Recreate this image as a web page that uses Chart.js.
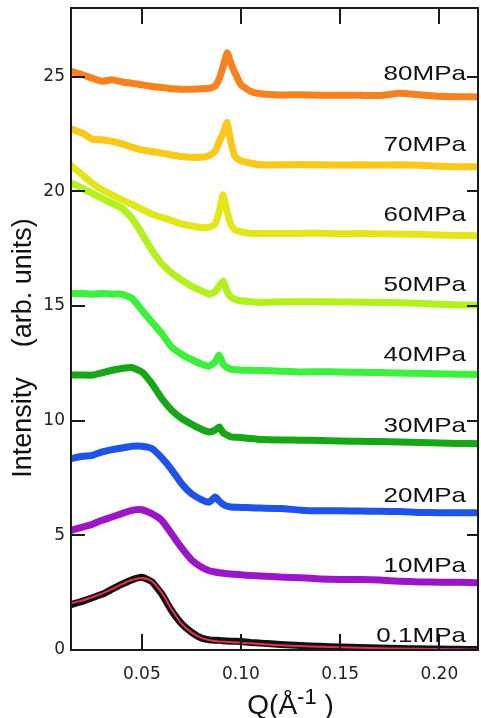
<!DOCTYPE html>
<html><head><meta charset="utf-8">
<script src="https://cdn.jsdelivr.net/npm/chart.js@4.4.1/dist/chart.umd.min.js"></script>
<style>html,body{margin:0;padding:0;background:#fff;}canvas{display:block;}</style>
</head><body>
<canvas id="c" width="481" height="718"></canvas>
<script>
// Q values (Å^-1)
const Q = [0.0145, 0.02, 0.025, 0.03, 0.035, 0.04, 0.045, 0.05, 0.055, 0.06, 0.065, 0.07, 0.075, 0.08, 0.084, 0.087, 0.089, 0.091, 0.093, 0.095, 0.097, 0.10, 0.105, 0.11, 0.12, 0.13, 0.14, 0.15, 0.16, 0.17, 0.18, 0.19, 0.20, 0.21, 0.2195];

const p01    = [1.98, 2.12, 2.28, 2.43, 2.65, 2.87, 3.06, 3.17, 2.98, 2.45, 1.72, 1.15, 0.78, 0.52, 0.44, 0.42, 0.42, 0.40, 0.39, 0.38, 0.38, 0.37, 0.33, 0.30, 0.24, 0.20, 0.16, 0.13, 0.11, 0.09, 0.07, 0.05, 0.04, 0.03, 0.02];
const p01fit = [2.04, 2.16, 2.30, 2.46, 2.66, 2.87, 3.05, 3.14, 3.00, 2.50, 1.77, 1.15, 0.77, 0.53, 0.43, 0.39, 0.37, 0.36, 0.35, 0.34, 0.33, 0.32, 0.29, 0.26, 0.21, 0.17, 0.14, 0.12, 0.10, 0.08, 0.06, 0.05, 0.04, 0.03, 0.02];
const p10    = [5.22, 5.36, 5.48, 5.66, 5.80, 5.95, 6.09, 6.12, 5.95, 5.66, 5.07, 4.46, 3.94, 3.62, 3.46, 3.40, 3.37, 3.35, 3.33, 3.31, 3.30, 3.28, 3.25, 3.23, 3.18, 3.15, 3.10, 3.07, 3.07, 3.05, 3.00, 2.97, 2.96, 2.95, 2.93];
const p20    = [8.35, 8.45, 8.49, 8.64, 8.74, 8.81, 8.89, 8.89, 8.79, 8.39, 7.87, 7.26, 6.82, 6.56, 6.45, 6.67, 6.50, 6.35, 6.27, 6.24, 6.23, 6.22, 6.20, 6.19, 6.17, 6.10, 6.07, 6.07, 6.06, 6.05, 6.04, 6.00, 5.99, 5.99, 5.99];
const p30    = [11.99, 11.99, 11.99, 12.09, 12.20, 12.28, 12.32, 12.13, 11.63, 10.98, 10.46, 10.10, 9.85, 9.63, 9.51, 9.59, 9.73, 9.47, 9.37, 9.30, 9.28, 9.27, 9.22, 9.18, 9.16, 9.15, 9.14, 9.12, 9.10, 9.09, 9.07, 9.05, 9.03, 9.01, 9.00];
const p40    = [15.55, 15.55, 15.52, 15.55, 15.52, 15.52, 15.34, 14.83, 14.31, 13.81, 13.22, 12.90, 12.67, 12.47, 12.38, 12.57, 12.86, 12.47, 12.32, 12.24, 12.22, 12.20, 12.20, 12.19, 12.16, 12.13, 12.14, 12.12, 12.11, 12.10, 12.08, 12.07, 12.05, 12.03, 12.02];
const p50    = [20.36, 20.14, 19.92, 19.70, 19.48, 19.27, 18.83, 18.17, 17.45, 16.86, 16.45, 16.14, 15.87, 15.67, 15.52, 15.63, 15.87, 16.09, 15.63, 15.38, 15.29, 15.23, 15.19, 15.16, 15.19, 15.19, 15.19, 15.18, 15.17, 15.16, 15.15, 15.12, 15.08, 15.05, 15.04];
const p60    = [21.12, 20.72, 20.36, 20.07, 19.85, 19.63, 19.44, 19.22, 19.02, 18.87, 18.73, 18.58, 18.49, 18.42, 18.44, 18.58, 19.12, 19.85, 19.12, 18.54, 18.32, 18.24, 18.17, 18.17, 18.16, 18.17, 18.18, 18.15, 18.16, 18.15, 18.14, 18.13, 18.10, 18.08, 18.07];
const p70    = [22.72, 22.54, 22.28, 22.25, 22.18, 22.07, 21.93, 21.81, 21.74, 21.67, 21.59, 21.52, 21.49, 21.49, 21.57, 21.75, 22.16, 22.53, 23.00, 22.12, 21.52, 21.34, 21.23, 21.16, 21.16, 21.17, 21.16, 21.15, 21.16, 21.15, 21.16, 21.14, 21.10, 21.08, 21.08];
const p80    = [25.23, 25.09, 24.94, 24.80, 24.87, 24.77, 24.72, 24.65, 24.58, 24.53, 24.48, 24.46, 24.46, 24.48, 24.50, 24.60, 24.91, 25.44, 26.05, 25.57, 25.17, 24.65, 24.36, 24.26, 24.21, 24.22, 24.20, 24.20, 24.19, 24.18, 24.28, 24.22, 24.15, 24.13, 24.12];

const seriesNames = ['0.1MPa', '10MPa', '20MPa', '30MPa', '40MPa', '50MPa', '60MPa', '70MPa', '80MPa'];
const seriesValues = [p01, p10, p20, p30, p40, p50, p60, p70, p80];
const seriesColors = ['#111111', '#9b16c6', '#1f52e8', '#16a616', '#3cf03c', '#b2f01e', '#e4e61c', '#f8c81a', '#f5821f'];
const fitColor = '#e8304c';

const xTicks = [0.05, 0.10, 0.15, 0.20];
const yTicks = [0, 5, 10, 15, 20, 25];
const xTitleParts = ['Q(Å', '-1', ' )'];
const yTitle = 'Intensity    (arb. units)';

const toPts = vals => Q.map((q, i) => ({x: q, y: vals[i]}));

const datasets = [{
  label: '0.1MPa fit', data: toPts(p01fit), borderColor: fitColor, borderWidth: 2,
  pointRadius: 0, tension: 0.3, fill: false
}];
seriesValues.forEach((vals, i) => {
  datasets.push({
    label: seriesNames[i], data: toPts(vals), borderColor: seriesColors[i],
    borderWidth: 7, pointRadius: 0, tension: 0.15, fill: false,
    borderJoinStyle: 'round', borderCapStyle: 'round'
  });
});

const deco = {
  id: 'deco',
  afterDraw(chart) {
    const ctx = chart.ctx;
    const a = chart.chartArea;
    const xs = chart.scales.x, ys = chart.scales.y;
    ctx.save();
    ctx.setLineDash([]);
    ctx.fillStyle = '#1a1a1a';
    // frame
    ctx.fillRect(a.left - 1, a.top - 1, 2, a.bottom - a.top + 2);
    ctx.fillRect(a.right - 1, a.top - 1, 2, a.bottom - a.top + 2);
    ctx.fillRect(a.left - 1, a.top - 1, a.right - a.left + 2, 2);
    ctx.fillRect(a.left - 1, a.bottom - 1, a.right - a.left + 2, 2);
    // inward ticks
    xTicks.forEach(v => {
      const px = Math.round(xs.getPixelForValue(v));
      ctx.fillRect(px - 1, a.bottom - 16, 2, 16);
      ctx.fillRect(px - 1, a.top, 2, 16);
    });
    yTicks.forEach(v => {
      const py = Math.round(ys.getPixelForValue(v));
      ctx.fillRect(a.left, py - 1, 14, 2);
      if (v > 0) ctx.fillRect(a.right - 11, py - 1, 11, 2);
    });

    // series labels
    ctx.fillStyle = '#111';
    ctx.font = '21px "Liberation Sans", Arial, sans-serif';
    ctx.textAlign = 'right';
    ctx.textBaseline = 'alphabetic';
    seriesNames.forEach((name, i) => {
      const py = ys.getPixelForValue(3 * i + 0.33 + 0.065 * i);
      ctx.save();
      ctx.translate(a.right - 12, py);
      ctx.scale(1.24, 1);
      ctx.fillText(name, 0, 0);
      ctx.restore();
    });

    // y title
    ctx.save();
    ctx.font = '27px "Liberation Sans", Arial, sans-serif';
    ctx.textAlign = 'center';
    ctx.translate(31, (a.top + a.bottom) / 2 + 19);
    ctx.rotate(-Math.PI / 2);
    ctx.fillText(yTitle, 0, 0);
    ctx.restore();

    // x title
    ctx.textAlign = 'left';
    const fMain = '28px "Liberation Sans", Arial, sans-serif';
    const fSup = '22px "Liberation Sans", Arial, sans-serif';
    ctx.font = fMain; const w0 = ctx.measureText(xTitleParts[0]).width;
    ctx.font = fSup; const w1 = ctx.measureText(xTitleParts[1]).width;
    ctx.font = fMain; const w2 = ctx.measureText(xTitleParts[2]).width;
    const cx = (a.left + a.right) / 2 + 16;
    let sx = cx - (w0 + w1 + w2) / 2;
    const base = 714;
    ctx.font = fMain; ctx.fillText(xTitleParts[0], sx, base); sx += w0;
    ctx.font = fSup; ctx.fillText(xTitleParts[1], sx, base - 10); sx += w1;
    ctx.font = fMain; ctx.fillText(xTitleParts[2], sx, base);
    ctx.restore();
  }
};

Chart.defaults.font.family = '"DejaVu Sans", sans-serif';
new Chart(document.getElementById('c'), {
  type: 'line',
  data: {datasets},
  options: {
    responsive: false, animation: false, devicePixelRatio: 1,
    layout: {padding: {top: 8, right: 3, left: 0, bottom: 0}},
    plugins: {legend: {display: false}, tooltip: {enabled: false}},
    scales: {
      x: {
        type: 'linear', min: 0.0143, max: 0.2195,
        grid: {display: false, drawTicks: false}, border: {display: false},
        afterBuildTicks: s => { s.ticks = xTicks.map(v => ({value: v})); },
        afterFit: s => { s.height = 68; s.paddingLeft = 0; s.paddingRight = 0; },
        ticks: {color: '#222', font: {size: 17}, padding: 14, maxRotation: 0,
                callback: v => v.toFixed(2)}
      },
      y: {
        type: 'linear', min: 0, max: 28,
        grid: {display: false, drawTicks: false}, border: {display: false},
        afterBuildTicks: s => { s.ticks = yTicks.map(v => ({value: v})); },
        afterFit: s => { s.width = 71; s.paddingTop = 0; s.paddingBottom = 0; },
        ticks: {color: '#222', font: {size: 17}, padding: 6, callback: v => String(v)}
      }
    }
  },
  plugins: [deco]
});
</script>
</body></html>
